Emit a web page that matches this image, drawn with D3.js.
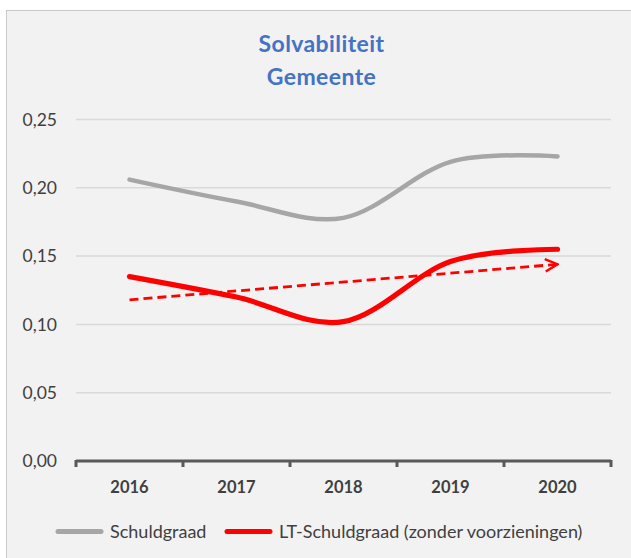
<!DOCTYPE html>
<html>
<head>
<meta charset="utf-8">
<script src="https://cdn.jsdelivr.net/npm/d3@7"></script>
<style>
  body { margin: 0; background: #fff; }
  text { font-family: Lato, "Open Sans", sans-serif; }
</style>
</head>
<body>
<div id="chart"></div>
<script>
// solvabiliteit gemeente - lijngrafiek met trendlijn
var years = ["2016", "2017", "2018", "2019", "2020"];
var schuldgraad = [0.206, 0.190, 0.178, 0.219, 0.223];
var ltSchuldgraad = [0.135, 0.120, 0.102, 0.146, 0.155];
var trend = [0.118, 0.144]; // lineaire trend LT-schuldgraad (begin, eind)
var yTicks = [0, 0.05, 0.10, 0.15, 0.20, 0.25];
var seriesNames = ["Schuldgraad", "LT-Schuldgraad (zonder voorzieningen)"];

var width = 631, height = 558;
var plot = { left: 76, right: 611, top: 119.5, bottom: 461 };

var svg = d3.select("#chart").append("svg")
    .attr("width", width)
    .attr("height", height);

// achtergrondpaneel
svg.append("rect")
    .attr("x", 6.5).attr("y", 10.5)
    .attr("width", 640).attr("height", 560)
    .attr("fill", "#f2f2f2")
    .attr("stroke", "#c9c9c9")
    .attr("stroke-width", 1);

var x = d3.scaleBand()
    .domain(years)
    .range([plot.left, plot.right]);

var y = d3.scaleLinear()
    .domain([0, 0.25])
    .range([plot.bottom, plot.top]);

var fmt = function (d) { return d3.format(".2f")(d).replace(".", ","); };

// rasterlijnen
svg.append("g")
    .selectAll("line")
    .data(yTicks.slice(1))
    .enter().append("line")
    .attr("x1", plot.left).attr("x2", plot.right)
    .attr("y1", function (d) { return y(d); })
    .attr("y2", function (d) { return y(d); })
    .attr("stroke", "#d9d9d9")
    .attr("stroke-width", 1.5);

// y-labels
svg.append("g")
    .selectAll("text")
    .data(yTicks)
    .enter().append("text")
    .attr("x", 57)
    .attr("y", function (d) { return y(d); })
    .attr("dy", "0.36em")
    .attr("text-anchor", "end")
    .attr("font-size", "17.5px")
    .attr("fill", "#404040")
    .text(fmt);

// x-as
var xAxis = d3.axisBottom(x).tickSize(0).tickFormat(function (d) { return d; });
var gx = svg.append("g")
    .attr("transform", "translate(0," + plot.bottom + ")")
    .call(xAxis);
gx.select(".domain").remove();
gx.selectAll("text")
    .attr("dy", 0)
    .attr("y", 32)
    .attr("font-size", "16.5px")
    .attr("font-weight", "bold")
    .attr("fill", "#404040")
    .style("font-family", "Lato, sans-serif");

var bounds = years.map(function (d) { return x(d); }).concat([plot.right]);
gx.append("line")
    .attr("x1", plot.left).attr("x2", plot.right)
    .attr("stroke", "#595959").attr("stroke-width", 3);
gx.selectAll(".bound")
    .data(bounds)
    .enter().append("line")
    .attr("class", "bound")
    .attr("x1", function (d) { return d; })
    .attr("x2", function (d) { return d; })
    .attr("y1", -1).attr("y2", 6)
    .attr("stroke", "#595959").attr("stroke-width", 3);

var cx = function (d, i) { return x(years[i]) + x.bandwidth() / 2; };

var line = d3.line()
    .x(function (d, i) { return cx(d, i); })
    .y(function (d) { return y(d); })
    .curve(d3.curveCardinal.tension(0));

svg.append("path")
    .datum(schuldgraad)
    .attr("d", line)
    .attr("fill", "none")
    .attr("stroke", "#a6a6a6")
    .attr("stroke-width", 4.5)
    .attr("stroke-linecap", "round");

// trendlijn met pijl
svg.append("defs").append("marker")
    .attr("id", "pijl")
    .attr("viewBox", "0 0 10 10")
    .attr("refX", 9).attr("refY", 5)
    .attr("markerWidth", 5.5).attr("markerHeight", 5.5)
    .attr("markerUnits", "strokeWidth")
    .attr("orient", "auto")
    .append("path")
    .attr("d", "M1,1 L9,5 L1,9")
    .attr("fill", "none")
    .attr("stroke", "#ff0000")
    .attr("stroke-width", 1.5);

svg.append("line")
    .attr("x1", cx(null, 0)).attr("y1", y(trend[0]))
    .attr("x2", cx(null, years.length - 1)).attr("y2", y(trend[1]))
    .attr("stroke", "#ff0000")
    .attr("stroke-width", 2.8)
    .attr("stroke-dasharray", "9,5")
    .attr("marker-end", "url(#pijl)");

svg.append("path")
    .datum(ltSchuldgraad)
    .attr("d", line)
    .attr("fill", "none")
    .attr("stroke", "#ff0000")
    .attr("stroke-width", 5.2)
    .attr("stroke-linecap", "round");

// titel
var title = svg.append("text")
    .attr("x", 321.5)
    .attr("text-anchor", "middle")
    .attr("font-size", "23px")
    .attr("font-weight", "bold")
    .attr("letter-spacing", "0.4px")
    .attr("fill", "#4472c4");
title.append("tspan").attr("x", 321.5).attr("y", 52).text("Solvabiliteit");
title.append("tspan").attr("x", 321.5).attr("y", 85).text("Gemeente");

// legenda
var legend = [
    { name: seriesNames[0], color: "#a6a6a6", x: 56 },
    { name: seriesNames[1], color: "#ff0000", x: 225 }
];
var lg = svg.append("g").selectAll("g")
    .data(legend)
    .enter().append("g");
lg.append("line")
    .attr("x1", function (d) { return d.x + 2; })
    .attr("x2", function (d) { return d.x + 45; })
    .attr("y1", 531.5).attr("y2", 531.5)
    .attr("stroke", function (d) { return d.color; })
    .attr("stroke-width", 5)
    .attr("stroke-linecap", "round");
lg.append("text")
    .attr("x", function (d) { return d.x + 54; })
    .attr("y", 531.5)
    .attr("dy", "0.36em")
    .attr("font-size", "18px")
    .attr("fill", "#404040")
    .text(function (d) { return d.name; });
</script>
</body>
</html>
